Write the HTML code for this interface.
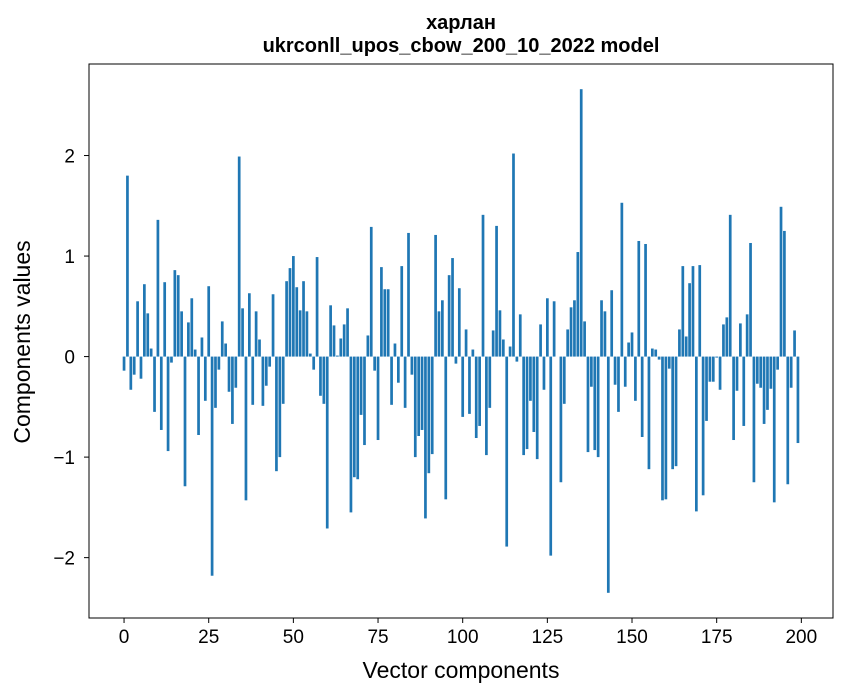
<!DOCTYPE html>
<html><head><meta charset="utf-8"><style>
body{margin:0;background:#fff;}
svg{display:block;font-family:"Liberation Sans","DejaVu Sans",sans-serif;}
</style></head><body>
<svg id="chart" width="847" height="696">
<rect width="847" height="696" fill="#fff"/>
<text x="461" y="29" text-anchor="middle" font-size="20" font-weight="bold">харлан</text>
<text x="461" y="52" text-anchor="middle" font-size="20" font-weight="bold">ukrconll_upos_cbow_200_10_2022 model</text>
<g id="bars"></g>
<g id="xticks"></g>
<g id="yticks"></g>
<rect x="89" y="64" width="744" height="554" fill="none" stroke="#000" stroke-width="1"/>
<text x="461" y="678" text-anchor="middle" font-size="23">Vector components</text>
<text transform="translate(30,342) rotate(-90)" text-anchor="middle" font-size="23">Components values</text>
</svg>
<script>
const values = [-0.14,1.80,-0.33,-0.18,0.55,-0.22,0.72,0.43,0.08,-0.55,
1.36,-0.73,0.74,-0.94,-0.06,0.86,0.81,0.45,-1.29,0.34,
0.58,0.07,-0.78,0.19,-0.44,0.70,-2.18,-0.51,-0.13,0.35,
0.13,-0.35,-0.67,-0.31,1.99,0.48,-1.43,0.63,-0.48,0.45,
0.17,-0.49,-0.29,-0.10,0.62,-1.14,-1.00,-0.47,0.75,0.88,
1.00,0.69,0.46,0.75,0.45,0.03,-0.13,0.99,-0.39,-0.47,
-1.71,0.51,0.31,0.01,0.18,0.32,0.48,-1.55,-1.20,-1.22,
-0.58,-0.88,0.21,1.29,-0.14,-0.83,0.89,0.67,0.67,-0.48,
0.13,-0.26,0.90,-0.51,1.23,-0.18,-1.00,-0.79,-0.73,-1.61,
-1.16,-0.97,1.21,0.45,0.56,-1.42,0.81,0.98,-0.07,0.68,
-0.60,0.27,-0.57,0.07,-0.81,-0.69,1.41,-0.98,-0.51,0.26,
1.30,0.46,0.17,-1.89,0.10,2.02,-0.05,0.42,-0.98,-0.92,
-0.44,-0.75,-1.02,0.32,-0.33,0.58,-1.98,0.55,0.00,-1.25,
-0.47,0.27,0.49,0.56,1.04,2.66,0.35,-0.95,-0.30,-0.93,
-1.00,0.56,0.45,-2.35,0.66,-0.28,-0.55,1.53,-0.30,0.14,
0.24,-0.44,1.15,-0.80,1.12,-1.12,0.08,0.07,-0.03,-1.43,
-1.42,-0.12,-1.12,-1.09,0.27,0.90,0.20,0.73,0.90,-1.54,
0.91,-1.38,-0.64,-0.25,-0.25,-0.01,-0.33,0.32,0.39,1.41,
-0.83,-0.34,0.33,-0.69,0.42,1.13,-1.25,-0.27,-0.31,-0.67,
-0.53,-0.32,-1.45,-0.13,1.49,1.25,-1.27,-0.31,0.26,-0.86];
const xTickValues = [0,25,50,75,100,125,150,175,200];
const yTickValues = [-2,-1,0,1,2];

const NS="http://www.w3.org/2000/svg";
const L=89,R=833,T=64,B=618;
const xmin=-10.35,xmax=values.length+9.35;
let vmin=Math.min(0,...values),vmax=Math.max(0,...values);
const pad=(vmax-vmin)*0.05;
const ymin=vmin-pad,ymax=vmax+pad;
function xs(v){return L+(v-xmin)/(xmax-xmin)*(R-L);}
function ys(v){return B-(v-ymin)/(ymax-ymin)*(B-T);}
const bars=document.getElementById('bars');
values.forEach((v,i)=>{
  const r=document.createElementNS(NS,'rect');
  const x0=xs(i-0.4),x1=xs(i+0.4);
  const y0=ys(Math.max(0,v)),y1=ys(Math.min(0,v));
  r.setAttribute('x',x0);r.setAttribute('width',x1-x0);
  r.setAttribute('y',y0);r.setAttribute('height',Math.max(0,y1-y0));
  r.setAttribute('fill','#1f77b4');
  
  
  bars.appendChild(r);
});
const xt=document.getElementById('xticks');
xTickValues.forEach(t=>{
  const x=xs(t);
  const l=document.createElementNS(NS,'line');
  l.setAttribute('x1',x);l.setAttribute('x2',x);l.setAttribute('y1',B);l.setAttribute('y2',B+5);
  l.setAttribute('stroke','#000');
  
  
  xt.appendChild(l);
  const tx=document.createElementNS(NS,'text');
  tx.setAttribute('x',x);tx.setAttribute('y',B+25);tx.setAttribute('text-anchor','middle');tx.setAttribute('font-size','19');
  tx.textContent=t;
  
  
  xt.appendChild(tx);
});
const yt=document.getElementById('yticks');
yTickValues.forEach(t=>{
  const y=ys(t);
  const l=document.createElementNS(NS,'line');
  l.setAttribute('x1',L-5);l.setAttribute('x2',L);l.setAttribute('y1',y);l.setAttribute('y2',y);
  l.setAttribute('stroke','#000');
  
  
  yt.appendChild(l);
  const tx=document.createElementNS(NS,'text');
  tx.setAttribute('x',L-14);tx.setAttribute('y',y+7);tx.setAttribute('text-anchor','end');tx.setAttribute('font-size','19');
  tx.textContent=t<0?'\u2212'+Math.abs(t):String(t);
  
  
  yt.appendChild(tx);
});
</script>
</body></html>
